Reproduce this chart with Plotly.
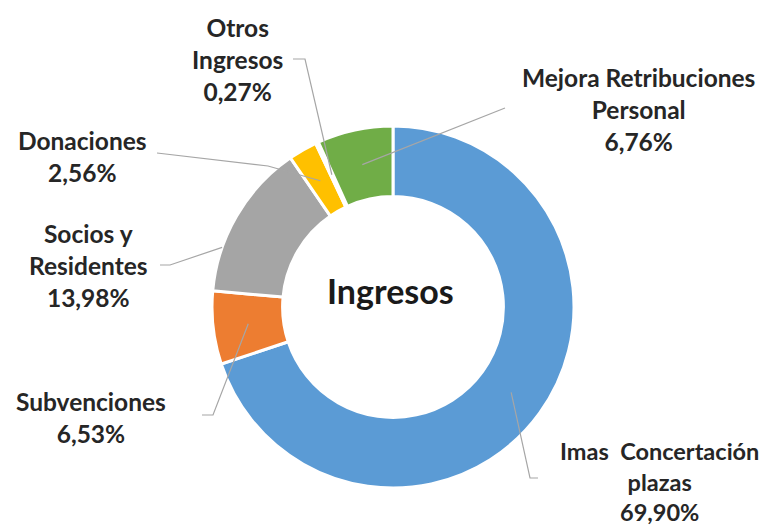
import math
import plotly.graph_objects as go

# Datos
categorias = ["Imas\u00a0 Concertación<br>plazas", "Subvenciones", "Socios y<br>Residentes",
              "Donaciones", "Otros<br>Ingresos", "Mejora Retribuciones<br>Personal"]
porcentajes = [69.90, 6.53, 13.98, 2.56, 0.27, 6.76]
etiquetas_pct = ["69,90%", "6,53%", "13,98%", "2,56%", "0,27%", "6,76%"]
colores = ["#5B9BD5", "#ED7D31", "#A5A5A5", "#FFC000", "#4472C4", "#70AD47"]

# la pagina deja 8px de margen en el body: se dibuja todo desplazado
OFF = 8
W, H = 772 - OFF, 528 - OFF
CX, CY, R, HOLE = 393, 307, 181, 0.61

# posiciones de las etiquetas (px de la imagen) y puntos del conector: inicio, codo
label_pos = [(659, 481), (91, 417), (88, 265), (82, 156), (237, 60), (638, 110)]
label_size = [23.5, 24.5, 24.5, 24.5, 24.5, 24.5]
leader_pts = [[(538, 478), (530, 478)], [(202, 415), (213, 415)], [(160, 265), (170, 265)],
              [(157, 153), (268, 166)], [(293, 59), (305, 59)], [(505, 108), (505, 108)]]
# donde apunta el conector dentro del sector: (fraccion del angulo, fraccion del radio)
anchor = [(0.5, 0.5), (0.5, 0.5), (0.28, 1.0), (0.5, 0.5), (0.5, 0.5), (0.5, 0.5)]


def px(x, y):
    return (x - OFF) / W, 1 - (y - OFF) / H


x0, y1 = px(CX - R, CY - R)
x1, y0 = px(CX + R, CY + R)
fig = go.Figure(go.Pie(
    values=porcentajes,
    labels=[c.replace("<br>", " ") for c in categorias],
    marker=dict(colors=colores, line=dict(color="white", width=3)),
    hole=HOLE, sort=False, direction="clockwise", rotation=0,
    textinfo="none", hoverinfo="label+percent",
    domain=dict(x=[x0, x1], y=[y0, y1]),
))

total = sum(porcentajes)
acum = 0
shapes = []
annotations = []
for i, v in enumerate(porcentajes):
    fa, fr = anchor[i]
    ang = math.radians((acum + v * fa) / total * 360)
    acum += v
    r_in = R * HOLE
    r = r_in + (R - r_in) * fr
    ex, ey = CX + r * math.sin(ang), CY - r * math.cos(ang)
    pts = leader_pts[i] + [(ex, ey)]
    path = "M " + " L ".join("%f,%f" % px(x, y) for x, y in pts)
    shapes.append(dict(type="path", xref="paper", yref="paper", path=path,
                       line=dict(color="#A6A6A6", width=1.2)))
    lx, ly = px(*label_pos[i])
    annotations.append(dict(
        x=lx, y=ly, xref="paper", yref="paper", showarrow=False,
        text="<b>" + categorias[i] + "<br>" + etiquetas_pct[i] + "</b>",
        align="center", xanchor="center", yanchor="middle",
        font=dict(family="Lato", size=label_size[i], color="#262626"),
    ))

cx, cy = px(CX - 3, 290)
annotations.append(dict(x=cx, y=cy, xref="paper", yref="paper", showarrow=False,
                        text="<b>Ingresos</b>", xanchor="center", yanchor="middle",
                        font=dict(family="Lato", size=34, color="#1a1a1a")))

fig.update_layout(
    width=W, height=H, margin=dict(l=0, r=0, t=0, b=0),
    paper_bgcolor="white", plot_bgcolor="white", showlegend=False,
    shapes=shapes, annotations=annotations,
)

fig.write_html("out.html")
